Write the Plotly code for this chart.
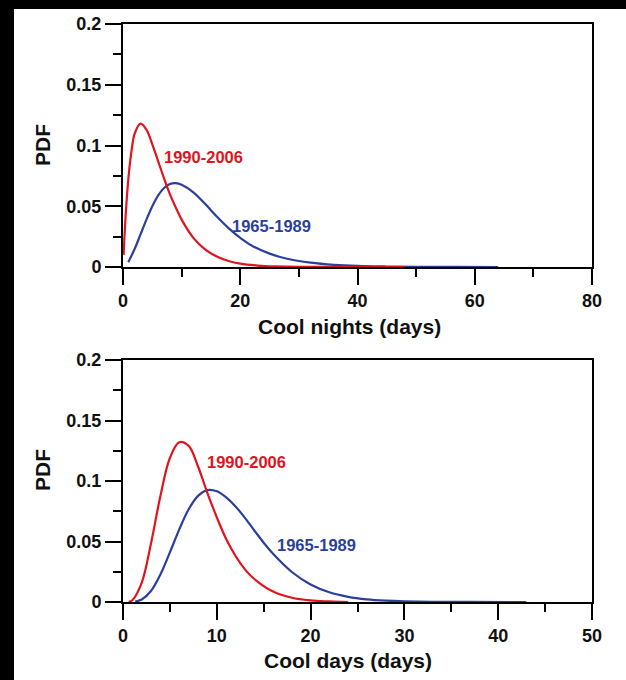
import plotly.graph_objects as go

# ---- data ----
# Top panel: Cool nights
nights_red_x = [0.1, 0.5, 1, 1.5, 2, 3, 4, 5, 6, 7, 8, 9, 10, 12, 14, 16, 18, 20, 23, 26, 30, 35, 40, 48]
nights_red_y = [0.010, 0.046, 0.077, 0.097, 0.110, 0.118, 0.113, 0.101, 0.087, 0.073, 0.060, 0.049, 0.039,
                0.024, 0.0145, 0.0086, 0.005, 0.0028, 0.0012, 0.0005, 0.00015, 0.00005, 0.00002, 0.0]
nights_blue_x = [0.9, 2, 3, 4, 5, 6, 7, 8, 9, 10, 12, 14, 16, 18, 20, 22, 25, 28, 32, 36, 40, 45, 50, 57, 64]
nights_blue_y = [0.004, 0.015, 0.027, 0.039, 0.050, 0.059, 0.065, 0.0683, 0.069, 0.0677, 0.0615, 0.052, 0.0415,
                 0.032, 0.024, 0.0175, 0.011, 0.0068, 0.0036, 0.0018, 0.0009, 0.0004, 0.00015, 0.00005, 0.0]

# Bottom panel: Cool days
days_red_x = [0.6, 1, 2, 3, 4, 5, 6, 7, 8, 9, 10, 11, 12, 13, 14, 16, 18, 20, 22, 24]
days_red_y = [0.0002, 0.0015, 0.016, 0.049, 0.088, 0.119, 0.132, 0.129, 0.112, 0.090, 0.070, 0.052, 0.038,
              0.027, 0.019, 0.0086, 0.0035, 0.0013, 0.0005, 0.0]
days_blue_x = [1.3, 2, 3, 4, 5, 6, 7, 8, 9, 10, 11, 12, 13, 14, 15, 16, 18, 20, 22, 24, 26, 28, 30, 33, 37, 43]
days_blue_y = [0.0003, 0.0021, 0.0093, 0.023, 0.041, 0.060, 0.0766, 0.0877, 0.0925, 0.0915, 0.0865, 0.0790,
               0.0695, 0.0591, 0.049, 0.0398, 0.0248, 0.0145, 0.008, 0.0043, 0.0022, 0.0011, 0.00054,
               0.0002, 0.00005, 0.0]

period_new = "1990-2006"
period_old = "1965-1989"
y_tickvals = [0, 0.05, 0.1, 0.15, 0.2]
y_ticktext = ["0", "0.05", "0.1", "0.15", "0.2"]

RED = "#e0141e"
BLUE = "#2b3f9c"
FONT = "Liberation Sans"

fig = go.Figure()
fig.add_trace(go.Scatter(x=nights_blue_x, y=nights_blue_y, mode="lines", line=dict(color=BLUE, width=2.2, shape="spline"),
                         xaxis="x", yaxis="y", showlegend=False))
fig.add_trace(go.Scatter(x=nights_red_x, y=nights_red_y, mode="lines", line=dict(color=RED, width=2.2, shape="spline"),
                         xaxis="x", yaxis="y", showlegend=False))
fig.add_trace(go.Scatter(x=days_blue_x, y=days_blue_y, mode="lines", line=dict(color=BLUE, width=2.2, shape="spline"),
                         xaxis="x2", yaxis="y2", showlegend=False))
fig.add_trace(go.Scatter(x=days_red_x, y=days_red_y, mode="lines", line=dict(color=RED, width=2.2, shape="spline"),
                         xaxis="x2", yaxis="y2", showlegend=False))

tickfont = dict(family=FONT, size=18, color="#111111", weight="bold")

def xax(rng, dt, anchor):
    return dict(range=rng, anchor=anchor, showgrid=False, zeroline=False, showline=True, linecolor="black",
                linewidth=2, mirror=True, ticks="outside", ticklen=16, tickwidth=2, tickcolor="black",
                dtick=dt, tick0=0, tickfont=tickfont,
                minor=dict(ticks="outside", ticklen=8, tickwidth=2, tickcolor="black", dtick=dt / 2, tick0=0))

def yax(domain, anchor):
    return dict(range=[0, 0.2], domain=domain, anchor=anchor, showgrid=False, zeroline=False, showline=True,
                linecolor="black", linewidth=2, mirror=True, ticks="outside", ticklen=16, tickwidth=2,
                tickcolor="black", tickvals=y_tickvals, ticktext=y_ticktext, tickfont=tickfont,
                minor=dict(ticks="outside", ticklen=8, tickwidth=2, tickcolor="black", dtick=0.025, tick0=0))

W, H = 626, 680
ml, mr, mt, mb = 123, 34, 24, 78
pw, ph = W - ml - mr, H - mt - mb

def px(x):
    return (x - ml) / pw

def py(y):
    return (H - mb - y) / ph

fig.update_layout(
    width=W, height=H, margin=dict(l=ml, r=mr, t=mt, b=mb),
    paper_bgcolor="white", plot_bgcolor="white",
    xaxis=xax([0, 80], 20, "y"),
    yaxis=yax([py(267), 1.0], "x"),
    xaxis2=xax([0, 50], 10, "y2"),
    yaxis2=yax([0.0, py(360)], "x2"),
)

ann_font = dict(family=FONT, size=21, color="#111111", weight="bold")
annotations = [
    dict(text="Cool nights (days)", x=px(349), y=py(326), xref="paper", yref="paper", showarrow=False,
         font=ann_font, xanchor="center", yanchor="middle"),
    dict(text="Cool days (days)", x=px(348), y=py(660), xref="paper", yref="paper", showarrow=False,
         font=ann_font, xanchor="center", yanchor="middle"),
    dict(text="PDF", x=px(42), y=py(145), xref="paper", yref="paper", showarrow=False, textangle=-90,
         font=ann_font, xanchor="center", yanchor="middle"),
    dict(text="PDF", x=px(42), y=py(470), xref="paper", yref="paper", showarrow=False, textangle=-90,
         font=ann_font, xanchor="center", yanchor="middle"),
    dict(text=period_new, x=13.8, y=0.0905, xref="x", yref="y", showarrow=False,
         font=dict(family=FONT, size=16.5, color=RED, weight="bold")),
    dict(text=period_old, x=25.4, y=0.0337, xref="x", yref="y", showarrow=False,
         font=dict(family=FONT, size=16.5, color=BLUE, weight="bold")),
    dict(text=period_new, x=13.2, y=0.1157, xref="x2", yref="y2", showarrow=False,
         font=dict(family=FONT, size=16.5, color=RED, weight="bold")),
    dict(text=period_old, x=20.6, y=0.0471, xref="x2", yref="y2", showarrow=False,
         font=dict(family=FONT, size=16.5, color=BLUE, weight="bold")),
]
fig.update_layout(annotations=annotations)

# black border strips at the top and left of the reference picture
fig.add_shape(type="rect", xref="paper", yref="paper", x0=px(0), x1=px(14), y0=py(H), y1=py(0),
              fillcolor="black", line=dict(width=0), layer="above")
fig.add_shape(type="rect", xref="paper", yref="paper", x0=px(0), x1=px(W), y0=py(9), y1=py(0),
              fillcolor="black", line=dict(width=0), layer="above")

fig.write_html("out.html")
